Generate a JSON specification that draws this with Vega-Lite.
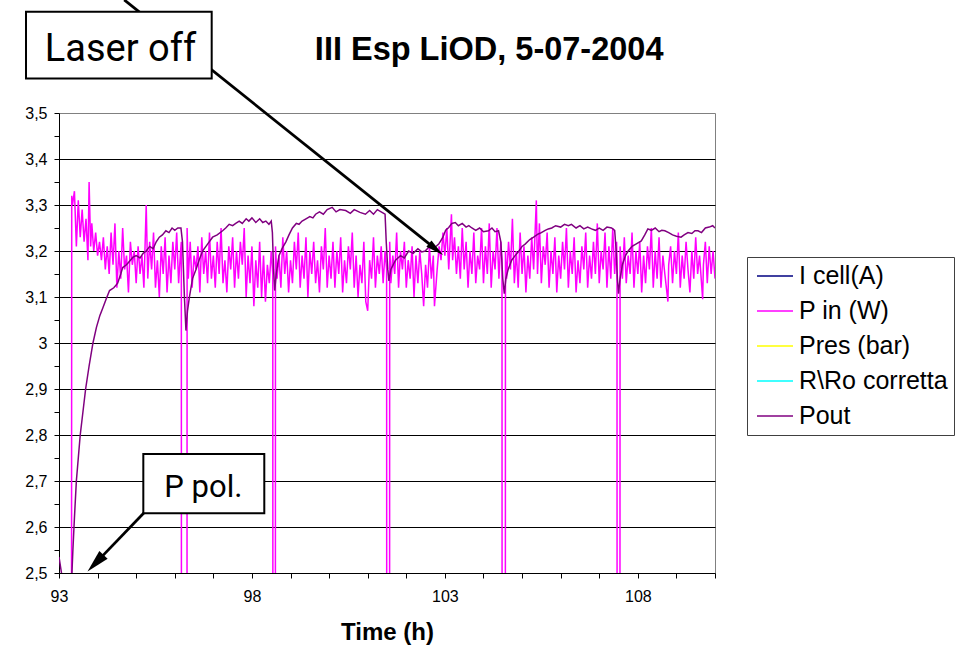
{
  "$schema": "https://vega.github.io/schema/vega-lite/v6.json",
  "width": 656,
  "height": 460,
  "autosize": {"type": "none"},
  "padding": {"left": 59, "top": 113, "right": 242, "bottom": 92},
  "background": "white",
  "config": {"view": {"stroke": "#808080", "strokeWidth": 1}, "font": "Liberation Sans"},
  "datasets": {
    "pin": [
      {"t":93.0,"v":0},{"t":93.31,"v":0},{"t":93.33,"v":3.32},{"t":93.35,"v":3.30},{"t":93.40,"v":3.33},{"t":93.45,"v":3.21},{"t":93.50,"v":3.31},{"t":93.55,"v":3.23},{"t":93.60,"v":3.29},{"t":93.65,"v":3.22},{"t":93.70,"v":3.27},{"t":93.75,"v":3.18},{"t":93.78,"v":3.35},{"t":93.82,"v":3.21},{"t":93.85,"v":3.26},{"t":93.90,"v":3.20},{"t":93.95,"v":3.24},
      {"t":94.00,"v":3.19},{"t":94.05,"v":3.22},{"t":94.10,"v":3.18},{"t":94.15,"v":3.23},{"t":94.20,"v":3.16},{"t":94.25,"v":3.21},{"t":94.30,"v":3.15},{"t":94.35,"v":3.24},{"t":94.40,"v":3.17},{"t":94.45,"v":3.26},{"t":94.50,"v":3.12},{"t":94.55,"v":3.20},{"t":94.60,"v":3.14},{"t":94.65,"v":3.25},{"t":94.70,"v":3.16},{"t":94.75,"v":3.19},{"t":94.80,"v":3.11},{"t":94.85,"v":3.22},{"t":94.90,"v":3.17},{"t":94.95,"v":3.20},
      {"t":95.00,"v":3.13},{"t":95.05,"v":3.21},{"t":95.10,"v":3.15},{"t":95.15,"v":3.19},{"t":95.20,"v":3.12},{"t":95.26,"v":3.30},{"t":95.30,"v":3.14},{"t":95.35,"v":3.22},{"t":95.40,"v":3.16},{"t":95.45,"v":3.24},{"t":95.50,"v":3.12},{"t":95.55,"v":3.18},{"t":95.60,"v":3.10},{"t":95.65,"v":3.21},{"t":95.70,"v":3.15},{"t":95.75,"v":3.23},{"t":95.80,"v":3.11},{"t":95.85,"v":3.19},{"t":95.90,"v":3.13},{"t":95.95,"v":3.22},
      {"t":96.00,"v":3.16},{"t":96.05,"v":3.24},{"t":96.10,"v":3.13},{"t":96.15,"v":3.20},{"t":96.17,"v":3.22},{"t":96.18,"v":0},{"t":96.31,"v":0},{"t":96.32,"v":3.25},{"t":96.35,"v":3.14},{"t":96.40,"v":3.22},{"t":96.45,"v":3.12},{"t":96.50,"v":3.19},{"t":96.55,"v":3.16},{"t":96.60,"v":3.21},{"t":96.65,"v":3.11},{"t":96.70,"v":3.23},{"t":96.75,"v":3.15},{"t":96.80,"v":3.20},{"t":96.85,"v":3.13},{"t":96.90,"v":3.24},{"t":96.95,"v":3.14},
      {"t":97.00,"v":3.19},{"t":97.05,"v":3.12},{"t":97.10,"v":3.22},{"t":97.15,"v":3.15},{"t":97.20,"v":3.25},{"t":97.25,"v":3.13},{"t":97.30,"v":3.18},{"t":97.35,"v":3.11},{"t":97.40,"v":3.21},{"t":97.45,"v":3.16},{"t":97.50,"v":3.23},{"t":97.55,"v":3.12},{"t":97.60,"v":3.20},{"t":97.65,"v":3.14},{"t":97.70,"v":3.22},{"t":97.75,"v":3.17},{"t":97.80,"v":3.25},{"t":97.85,"v":3.10},{"t":97.90,"v":3.19},{"t":97.95,"v":3.13},
      {"t":98.00,"v":3.21},{"t":98.05,"v":3.08},{"t":98.10,"v":3.18},{"t":98.15,"v":3.12},{"t":98.20,"v":3.22},{"t":98.25,"v":3.10},{"t":98.30,"v":3.19},{"t":98.35,"v":3.09},{"t":98.40,"v":3.17},{"t":98.45,"v":3.13},{"t":98.50,"v":3.20},{"t":98.54,"v":3.15},{"t":98.55,"v":0},{"t":98.60,"v":0},{"t":98.61,"v":3.21},{"t":98.65,"v":3.14},{"t":98.70,"v":3.19},{"t":98.75,"v":3.12},{"t":98.80,"v":3.23},{"t":98.85,"v":3.15},{"t":98.90,"v":3.20},{"t":98.95,"v":3.11},
      {"t":99.00,"v":3.18},{"t":99.05,"v":3.13},{"t":99.10,"v":3.22},{"t":99.15,"v":3.16},{"t":99.20,"v":3.24},{"t":99.25,"v":3.12},{"t":99.30,"v":3.19},{"t":99.35,"v":3.14},{"t":99.40,"v":3.23},{"t":99.45,"v":3.10},{"t":99.50,"v":3.20},{"t":99.55,"v":3.15},{"t":99.60,"v":3.22},{"t":99.65,"v":3.13},{"t":99.70,"v":3.18},{"t":99.75,"v":3.11},{"t":99.80,"v":3.21},{"t":99.85,"v":3.16},{"t":99.90,"v":3.25},{"t":99.95,"v":3.12},
      {"t":100.00,"v":3.19},{"t":100.05,"v":3.14},{"t":100.10,"v":3.22},{"t":100.15,"v":3.12},{"t":100.20,"v":3.20},{"t":100.25,"v":3.15},{"t":100.30,"v":3.23},{"t":100.35,"v":3.11},{"t":100.40,"v":3.18},{"t":100.45,"v":3.13},{"t":100.50,"v":3.21},{"t":100.55,"v":3.16},{"t":100.60,"v":3.24},{"t":100.65,"v":3.12},{"t":100.70,"v":3.19},{"t":100.75,"v":3.10},{"t":100.80,"v":3.17},{"t":100.85,"v":3.13},{"t":100.90,"v":3.22},{"t":100.95,"v":3.09},
      {"t":101.00,"v":3.07},{"t":101.05,"v":3.18},{"t":101.10,"v":3.14},{"t":101.15,"v":3.23},{"t":101.20,"v":3.12},{"t":101.25,"v":3.19},{"t":101.30,"v":3.15},{"t":101.35,"v":3.21},{"t":101.40,"v":3.13},{"t":101.45,"v":3.20},{"t":101.49,"v":3.16},{"t":101.50,"v":0},{"t":101.56,"v":0},{"t":101.57,"v":3.22},{"t":101.60,"v":3.13},{"t":101.65,"v":3.19},{"t":101.70,"v":3.15},{"t":101.75,"v":3.24},{"t":101.80,"v":3.12},{"t":101.85,"v":3.20},{"t":101.90,"v":3.16},{"t":101.95,"v":3.22},
      {"t":102.00,"v":3.12},{"t":102.05,"v":3.18},{"t":102.10,"v":3.14},{"t":102.15,"v":3.21},{"t":102.20,"v":3.10},{"t":102.25,"v":3.19},{"t":102.30,"v":3.13},{"t":102.35,"v":3.20},{"t":102.40,"v":3.15},{"t":102.45,"v":3.08},{"t":102.50,"v":3.17},{"t":102.55,"v":3.12},{"t":102.60,"v":3.21},{"t":102.65,"v":3.14},{"t":102.70,"v":3.19},{"t":102.73,"v":3.08},{"t":102.80,"v":3.16},{"t":102.85,"v":3.21},{"t":102.90,"v":3.18},{"t":102.95,"v":3.24},
      {"t":103.00,"v":3.19},{"t":103.05,"v":3.25},{"t":103.10,"v":3.16},{"t":103.17,"v":3.28},{"t":103.20,"v":3.18},{"t":103.25,"v":3.23},{"t":103.30,"v":3.15},{"t":103.35,"v":3.21},{"t":103.40,"v":3.14},{"t":103.45,"v":3.25},{"t":103.50,"v":3.16},{"t":103.55,"v":3.22},{"t":103.60,"v":3.12},{"t":103.65,"v":3.20},{"t":103.70,"v":3.15},{"t":103.75,"v":3.24},{"t":103.80,"v":3.13},{"t":103.85,"v":3.19},{"t":103.90,"v":3.16},{"t":103.95,"v":3.25},
      {"t":104.00,"v":3.13},{"t":104.05,"v":3.21},{"t":104.10,"v":3.15},{"t":104.15,"v":3.26},{"t":104.20,"v":3.12},{"t":104.25,"v":3.20},{"t":104.30,"v":3.16},{"t":104.35,"v":3.25},{"t":104.40,"v":3.14},{"t":104.45,"v":3.22},{"t":104.48,"v":3.18},{"t":104.49,"v":0},{"t":104.56,"v":0},{"t":104.57,"v":3.20},{"t":104.60,"v":3.14},{"t":104.65,"v":3.22},{"t":104.70,"v":3.16},{"t":104.75,"v":3.27},{"t":104.80,"v":3.13},{"t":104.85,"v":3.20},{"t":104.90,"v":3.12},{"t":104.95,"v":3.24},
      {"t":105.00,"v":3.15},{"t":105.05,"v":3.21},{"t":105.10,"v":3.11},{"t":105.15,"v":3.19},{"t":105.20,"v":3.14},{"t":105.25,"v":3.23},{"t":105.30,"v":3.16},{"t":105.37,"v":3.31},{"t":105.40,"v":3.15},{"t":105.45,"v":3.26},{"t":105.50,"v":3.13},{"t":105.55,"v":3.21},{"t":105.60,"v":3.17},{"t":105.65,"v":3.24},{"t":105.70,"v":3.12},{"t":105.75,"v":3.20},{"t":105.80,"v":3.15},{"t":105.85,"v":3.23},{"t":105.90,"v":3.11},{"t":105.95,"v":3.19},
      {"t":106.00,"v":3.14},{"t":106.05,"v":3.22},{"t":106.10,"v":3.16},{"t":106.15,"v":3.25},{"t":106.20,"v":3.12},{"t":106.25,"v":3.20},{"t":106.30,"v":3.15},{"t":106.35,"v":3.23},{"t":106.40,"v":3.11},{"t":106.45,"v":3.18},{"t":106.50,"v":3.13},{"t":106.55,"v":3.21},{"t":106.60,"v":3.16},{"t":106.65,"v":3.24},{"t":106.70,"v":3.12},{"t":106.75,"v":3.19},{"t":106.80,"v":3.14},{"t":106.85,"v":3.22},{"t":106.90,"v":3.15},{"t":106.95,"v":3.26},
      {"t":107.00,"v":3.13},{"t":107.05,"v":3.20},{"t":107.10,"v":3.16},{"t":107.15,"v":3.24},{"t":107.20,"v":3.12},{"t":107.25,"v":3.21},{"t":107.30,"v":3.14},{"t":107.35,"v":3.25},{"t":107.40,"v":3.15},{"t":107.45,"v":3.22},{"t":107.46,"v":3.18},{"t":107.47,"v":0},{"t":107.53,"v":0},{"t":107.54,"v":3.21},{"t":107.60,"v":3.14},{"t":107.65,"v":3.23},{"t":107.70,"v":3.13},{"t":107.75,"v":3.19},{"t":107.80,"v":3.15},{"t":107.85,"v":3.24},{"t":107.90,"v":3.12},{"t":107.95,"v":3.20},
      {"t":108.00,"v":3.15},{"t":108.05,"v":3.22},{"t":108.10,"v":3.11},{"t":108.15,"v":3.19},{"t":108.20,"v":3.13},{"t":108.25,"v":3.21},{"t":108.30,"v":3.16},{"t":108.35,"v":3.25},{"t":108.40,"v":3.12},{"t":108.45,"v":3.20},{"t":108.50,"v":3.14},{"t":108.55,"v":3.23},{"t":108.60,"v":3.12},{"t":108.65,"v":3.19},{"t":108.70,"v":3.15},{"t":108.78,"v":3.09},{"t":108.80,"v":3.17},{"t":108.85,"v":3.21},{"t":108.90,"v":3.13},{"t":108.95,"v":3.20},
      {"t":109.00,"v":3.15},{"t":109.05,"v":3.24},{"t":109.10,"v":3.12},{"t":109.15,"v":3.19},{"t":109.20,"v":3.14},{"t":109.25,"v":3.22},{"t":109.30,"v":3.16},{"t":109.35,"v":3.11},{"t":109.40,"v":3.20},{"t":109.45,"v":3.14},{"t":109.50,"v":3.23},{"t":109.55,"v":3.15},{"t":109.60,"v":3.19},{"t":109.68,"v":3.095},{"t":109.70,"v":3.17},{"t":109.75,"v":3.22},{"t":109.80,"v":3.13},{"t":109.85,"v":3.21},{"t":109.90,"v":3.15},{"t":109.95,"v":3.20},{"t":110.00,"v":3.14}
    ],
    "pout": [
      {"t":93.0,"v":2.535},{"t":93.12,"v":2.47},{"t":93.25,"v":2.40},{"t":93.33,"v":2.49},{"t":93.36,"v":2.55},{"t":93.40,"v":2.62},{"t":93.45,"v":2.70},{"t":93.50,"v":2.75},{"t":93.55,"v":2.80},{"t":93.62,"v":2.85},{"t":93.69,"v":2.90},{"t":93.78,"v":2.95},{"t":93.88,"v":3.0},{"t":93.97,"v":3.034},{"t":94.06,"v":3.06},{"t":94.14,"v":3.077},{"t":94.22,"v":3.095},{"t":94.31,"v":3.114},{"t":94.42,"v":3.12},{"t":94.52,"v":3.13},{"t":94.60,"v":3.15},{"t":94.65,"v":3.164},{"t":94.75,"v":3.17},{"t":94.85,"v":3.18},{"t":94.91,"v":3.186},{"t":95.0,"v":3.19},{"t":95.1,"v":3.185},{"t":95.18,"v":3.195},{"t":95.26,"v":3.20},{"t":95.35,"v":3.21},{"t":95.44,"v":3.205},{"t":95.52,"v":3.22},{"t":95.6,"v":3.23},{"t":95.68,"v":3.235},{"t":95.77,"v":3.244},{"t":95.85,"v":3.24},{"t":95.93,"v":3.25},{"t":96.0,"v":3.245},{"t":96.08,"v":3.25},{"t":96.16,"v":3.25},
      {"t":96.2,"v":3.22},{"t":96.25,"v":3.10},{"t":96.29,"v":3.027},{"t":96.33,"v":3.07},{"t":96.38,"v":3.10},{"t":96.46,"v":3.14},{"t":96.55,"v":3.16},{"t":96.63,"v":3.18},{"t":96.72,"v":3.20},{"t":96.85,"v":3.215},{"t":96.98,"v":3.23},{"t":97.1,"v":3.235},{"t":97.24,"v":3.244},{"t":97.32,"v":3.25},{"t":97.41,"v":3.258},{"t":97.5,"v":3.255},{"t":97.58,"v":3.26},{"t":97.67,"v":3.265},{"t":97.75,"v":3.26},{"t":97.85,"v":3.27},{"t":97.92,"v":3.265},{"t":98.0,"v":3.272},{"t":98.1,"v":3.262},{"t":98.2,"v":3.27},{"t":98.28,"v":3.262},{"t":98.36,"v":3.265},{"t":98.44,"v":3.258},{"t":98.5,"v":3.265},
      {"t":98.53,"v":3.24},{"t":98.56,"v":3.16},{"t":98.59,"v":3.114},{"t":98.63,"v":3.15},{"t":98.7,"v":3.19},{"t":98.78,"v":3.205},{"t":98.88,"v":3.22},{"t":98.96,"v":3.235},{"t":99.05,"v":3.25},{"t":99.15,"v":3.26},{"t":99.22,"v":3.258},{"t":99.3,"v":3.265},{"t":99.4,"v":3.27},{"t":99.5,"v":3.275},{"t":99.58,"v":3.272},{"t":99.65,"v":3.28},{"t":99.75,"v":3.285},{"t":99.85,"v":3.28},{"t":99.95,"v":3.29},{"t":100.08,"v":3.295},{"t":100.18,"v":3.285},{"t":100.28,"v":3.29},{"t":100.43,"v":3.288},{"t":100.55,"v":3.282},{"t":100.65,"v":3.29},{"t":100.8,"v":3.284},{"t":100.94,"v":3.28},{"t":101.05,"v":3.288},{"t":101.15,"v":3.28},{"t":101.25,"v":3.29},{"t":101.37,"v":3.284},{"t":101.45,"v":3.28},
      {"t":101.48,"v":3.22},{"t":101.52,"v":3.16},{"t":101.55,"v":3.135},{"t":101.6,"v":3.16},{"t":101.72,"v":3.18},{"t":101.85,"v":3.19},{"t":101.95,"v":3.185},{"t":102.06,"v":3.20},{"t":102.18,"v":3.195},{"t":102.3,"v":3.205},{"t":102.4,"v":3.198},{"t":102.49,"v":3.20},{"t":102.6,"v":3.21},{"t":102.7,"v":3.205},{"t":102.84,"v":3.215},{"t":102.95,"v":3.23},{"t":103.02,"v":3.245},{"t":103.1,"v":3.251},{"t":103.18,"v":3.26},{"t":103.27,"v":3.262},{"t":103.35,"v":3.255},{"t":103.45,"v":3.26},{"t":103.55,"v":3.252},{"t":103.62,"v":3.255},{"t":103.7,"v":3.25},{"t":103.8,"v":3.245},{"t":103.9,"v":3.25},{"t":104.0,"v":3.242},{"t":104.13,"v":3.244},{"t":104.22,"v":3.25},{"t":104.3,"v":3.242},{"t":104.39,"v":3.244},
      {"t":104.45,"v":3.22},{"t":104.5,"v":3.14},{"t":104.54,"v":3.107},{"t":104.58,"v":3.14},{"t":104.64,"v":3.16},{"t":104.73,"v":3.18},{"t":104.82,"v":3.19},{"t":104.92,"v":3.20},{"t":105.0,"v":3.21},{"t":105.08,"v":3.215},{"t":105.2,"v":3.225},{"t":105.3,"v":3.23},{"t":105.42,"v":3.237},{"t":105.5,"v":3.24},{"t":105.6,"v":3.245},{"t":105.68,"v":3.248},{"t":105.77,"v":3.25},{"t":105.87,"v":3.255},{"t":106.0,"v":3.252},{"t":106.1,"v":3.258},{"t":106.2,"v":3.255},{"t":106.28,"v":3.258},{"t":106.4,"v":3.25},{"t":106.5,"v":3.255},{"t":106.6,"v":3.248},{"t":106.7,"v":3.252},{"t":106.8,"v":3.248},{"t":106.9,"v":3.245},{"t":107.0,"v":3.25},{"t":107.1,"v":3.245},{"t":107.2,"v":3.252},{"t":107.32,"v":3.25},{"t":107.4,"v":3.245},
      {"t":107.44,"v":3.20},{"t":107.47,"v":3.14},{"t":107.5,"v":3.107},{"t":107.54,"v":3.14},{"t":107.6,"v":3.17},{"t":107.68,"v":3.19},{"t":107.75,"v":3.20},{"t":107.85,"v":3.21},{"t":107.95,"v":3.215},{"t":108.09,"v":3.222},{"t":108.18,"v":3.235},{"t":108.26,"v":3.248},{"t":108.35,"v":3.245},{"t":108.45,"v":3.25},{"t":108.55,"v":3.242},{"t":108.62,"v":3.245},{"t":108.7,"v":3.244},{"t":108.8,"v":3.24},{"t":108.9,"v":3.235},{"t":109.0,"v":3.232},{"t":109.12,"v":3.23},{"t":109.2,"v":3.235},{"t":109.3,"v":3.24},{"t":109.4,"v":3.238},{"t":109.48,"v":3.244},{"t":109.56,"v":3.244},{"t":109.65,"v":3.24},{"t":109.75,"v":3.25},{"t":109.85,"v":3.252},{"t":109.94,"v":3.255},{"t":110.0,"v":3.25}
    ]
  },
  "encoding": {
    "x": {"field": "t", "type": "quantitative",
      "scale": {"domain": [93, 110], "nice": false, "zero": false},
      "axis": {"title": "Time (h)", "values": [93,94,95,96,97,98,99,100,101,102,103,104,105,106,107,108,109,110],
        "labelExpr": "(datum.value - 93) % 5 == 0 ? datum.label : ''",
        "labelFlush": false, "labelOverlap": false, "grid": false,
        "tickSize": 5, "tickColor": "black", "domainColor": "black",
        "labelFont": "Liberation Sans", "labelFontSize": 16, "labelColor": "black", "labelPadding": 10,
        "titleFont": "Liberation Sans", "titleFontSize": 24, "titleFontWeight": "bold", "titleColor": "black", "titlePadding": 16}},
    "y": {"field": "v", "type": "quantitative",
      "scale": {"domain": [2.5, 3.5], "nice": false, "zero": false},
      "axis": {"title": null, "values": [2.5,2.55,2.6,2.65,2.7,2.75,2.8,2.85,2.9,2.95,3,3.05,3.1,3.15,3.2,3.25,3.3,3.35,3.4,3.45,3.5],
        "labelExpr": "round(datum.value*20) % 2 == 0 ? replace(format(datum.value, '.1~f'), '.', ',') : ''",
        "labelFlush": false, "labelOverlap": false, "grid": true,
        "gridColor": "black", "gridWidth": 1,
        "gridOpacity": {"condition": {"test": "round(datum.value*20) % 2 == 0 && datum.value > 2.51 && datum.value < 3.49", "value": 1}, "value": 0},
        "tickSize": 5, "tickColor": "black", "domainColor": "black",
        "labelFont": "Liberation Sans", "labelFontSize": 16, "labelColor": "black", "labelPadding": 7}}
  },
  "layer": [
    {
      "data": {"name": "pin"},
      "mark": {"type": "line", "strokeWidth": 1.5, "clip": true},
      "encoding": {
        "color": {"datum": "P in (W)", "type": "nominal",
          "scale": {"domain": ["I cell(A)", "P in (W)", "Pres (bar)", "R\\Ro corretta", "Pout"],
                    "range": ["#000080", "#FF00FF", "#FFFF00", "#00FFFF", "#800080"]},
          "legend": {"title": null, "orient": "none", "legendX": 688, "legendY": 144,
            "symbolType": "M-0.75,0H2.25", "symbolStrokeWidth": 1.5, "symbolSize": 576, "symbolFillColor": "transparent",
            "labelFont": "Liberation Sans", "labelFontSize": 25, "labelColor": "black", "labelOffset": 20, "labelLimit": 0,
            "strokeColor": "#404040", "fillColor": "white", "padding": 6, "rowPadding": 9}}
      }
    },
    {
      "data": {"name": "pout"},
      "mark": {"type": "line", "strokeWidth": 1.5, "clip": true},
      "encoding": {"color": {"datum": "Pout", "type": "nominal"}}
    },
    {
      "data": {"values": [{"t":94.69,"v":3.746,"t2":102.723,"v2":3.2067},{"t":95.254,"v":2.6354,"t2":93.998,"v2":2.5259}]},
      "mark": {"type": "rule", "color": "black", "strokeWidth": 2.75},
      "encoding": {"x2": {"field": "t2"}, "y2": {"field": "v2"}}
    },
    {
      "data": {"values": [{"t":102.723,"v":3.2067}]},
      "mark": {"type": "point", "shape": "M0,-1L0.36,0.6L-0.36,0.6Z", "filled": true, "color": "black", "opacity": 1, "size": 506, "angle": 128.8},
      "encoding": {}
    },
    {
      "data": {"values": [{"t":93.998,"v":2.5259}]},
      "mark": {"type": "point", "shape": "M0,-1L0.4,0.6L-0.4,0.6Z", "filled": true, "color": "black", "opacity": 1, "size": 828, "angle": 223.9},
      "encoding": {}
    },
    {
      "data": {"values": [{"t":92.145,"t2":96.957,"v":3.720,"v2":3.575},{"t":95.185,"t2":98.32,"v":2.7587,"v2":2.6298}]},
      "mark": {"type": "rect", "fill": "white", "stroke": "black", "strokeWidth": 2},
      "encoding": {"x2": {"field": "t2"}, "y2": {"field": "v2"}}
    },
    {
      "data": {"values": [{"t":94.594,"v":3.6137,"label":"Laser off"}]},
      "mark": {"type": "text", "font": "Roboto", "fontSize": 38, "color": "black", "align": "center", "baseline": "alphabetic"},
      "encoding": {"text": {"field": "label"}}
    },
    {
      "data": {"values": [{"t":96.74,"v":2.6659,"label":"P pol."}]},
      "mark": {"type": "text", "font": "Roboto", "fontSize": 31, "color": "black", "align": "center", "baseline": "alphabetic"},
      "encoding": {"text": {"field": "label"}}
    },
    {
      "data": {"values": [{"t":104.148,"v":3.6152,"label":"III Esp LiOD, 5-07-2004"}]},
      "mark": {"type": "text", "font": "Liberation Sans", "fontSize": 32.5, "fontWeight": "bold", "color": "black", "align": "center", "baseline": "alphabetic"},
      "encoding": {"text": {"field": "label"}}
    }
  ]
}
